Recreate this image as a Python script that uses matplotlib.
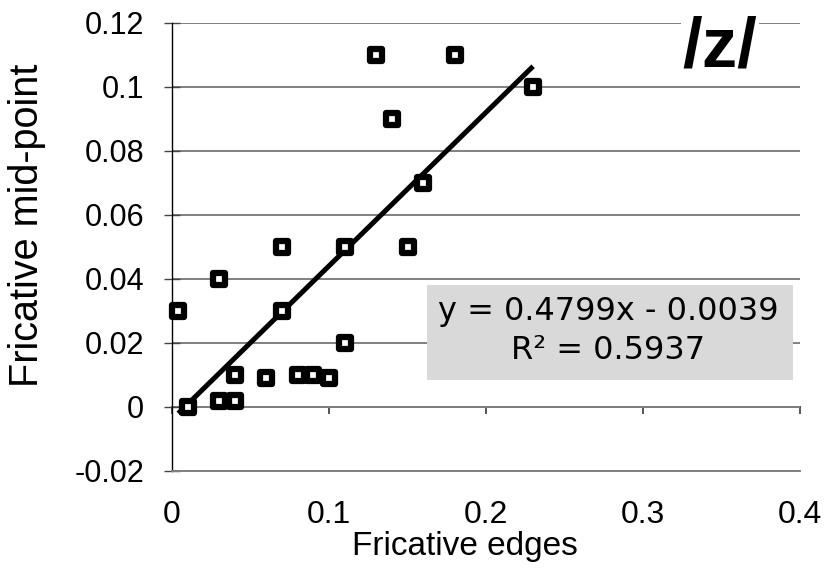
import matplotlib.pyplot as plt
import numpy as np
from matplotlib.markers import MarkerStyle
from matplotlib.patches import Rectangle

plt.switch_backend('Agg')
plt.rcParams['font.family'] = ['Liberation Sans', 'DejaVu Sans']

edges = [0.004, 0.03, 0.07, 0.11, 0.04, 0.06, 0.08, 0.09, 0.10, 0.01,
         0.03, 0.04, 0.07, 0.11, 0.15, 0.13, 0.18, 0.23, 0.14, 0.16]
midpoint = [0.03, 0.04, 0.03, 0.02, 0.01, 0.009, 0.01, 0.01, 0.009, 0.0,
            0.002, 0.002, 0.05, 0.05, 0.05, 0.11, 0.11, 0.10, 0.09, 0.07]
slope = 0.4799
intercept = -0.0039
r2 = 0.5937
x_ticks = [0, 0.1, 0.2, 0.3, 0.4]
x_labels = ['0', '0.1', '0.2', '0.3', '0.4']
y_ticks = [-0.02, 0, 0.02, 0.04, 0.06, 0.08, 0.1, 0.12]
y_labels = ['-0.02', '0', '0.02', '0.04', '0.06', '0.08', '0.1', '0.12']

W, H = 826, 574
fig = plt.figure(figsize=(W / 100, H / 100), dpi=100)
ax = fig.add_axes([172 / W, 1 - 471 / H, 628 / W, 448 / H])
ax.set_xlim(0, 0.4)
ax.set_ylim(-0.02, 0.12)

ax.set_yticks(y_ticks)
ax.set_yticklabels(y_labels)
ax.yaxis.grid(True, color='#808080', lw=1.4)
ax.set_axisbelow(True)
ax.set_xticks(x_ticks)
ax.set_xticklabels(x_labels)

for s in ['top', 'right']:
    ax.spines[s].set_visible(False)
ax.spines['bottom'].set_color('#808080')
ax.spines['bottom'].set_linewidth(1.4)
ax.spines['left'].set_color('black')
ax.spines['left'].set_linewidth(1.0)
ax.tick_params(axis='x', length=0, pad=21, labelsize=23)
ax.tick_params(axis='y', direction='inout', length=12, width=1, color='#444444',
               pad=14, labelsize=22)

# horizontal axis crossing at y = 0
ymin, ymax = ax.get_ylim()
sec = ax.secondary_xaxis((0 - ymin) / (ymax - ymin))
sec.set_xticks(x_ticks)
sec.set_xticklabels([])
sec.tick_params(direction='out', length=5, width=1.4, color='#555555')
sec.spines['bottom'].set_color('#555555')
sec.spines['bottom'].set_linewidth(1.4)

# linear trend line over the data range
xs = np.array([min(edges), max(edges)])
ax.plot(xs, slope * xs + intercept, color='black', lw=3.6, zorder=3,
        solid_capstyle='butt')

marker = MarkerStyle('s', joinstyle='round')
ax.plot(edges, midpoint, linestyle='none', marker=marker, markersize=9,
        markerfacecolor='white', markeredgecolor='black', markeredgewidth=4.5,
        zorder=4, clip_on=False)

ax.set_xlabel('Fricative edges', fontsize=24)
ax.xaxis.set_label_coords(0.466, -0.134)
ax.set_ylabel('Fricative mid-point', fontsize=28.5)
ax.yaxis.set_label_coords(-0.2006, 0.549)

# equation box
fig.patches.append(Rectangle((427 / W, 1 - 380 / H), 366 / W, 95 / H,
                             transform=fig.transFigure, facecolor='#d9d9d9',
                             edgecolor='none', zorder=5))
eq = f'y = {slope:.4f}x - {abs(intercept):.4f}\nR² = {r2:.4f}'
fig.text(608 / W, 1 - 331 / H, eq, ha='center', va='center', fontsize=23,
         family='DejaVu Sans', linespacing=1.3, zorder=6)

fig.text(720 / W, 1 - 67 / H, '/z/', ha='center', va='baseline',
         fontsize=51, fontweight='bold', zorder=6,
         bbox=dict(boxstyle='square,pad=0.02', facecolor='white', edgecolor='none'))

fig.savefig('out.png', dpi=100)
